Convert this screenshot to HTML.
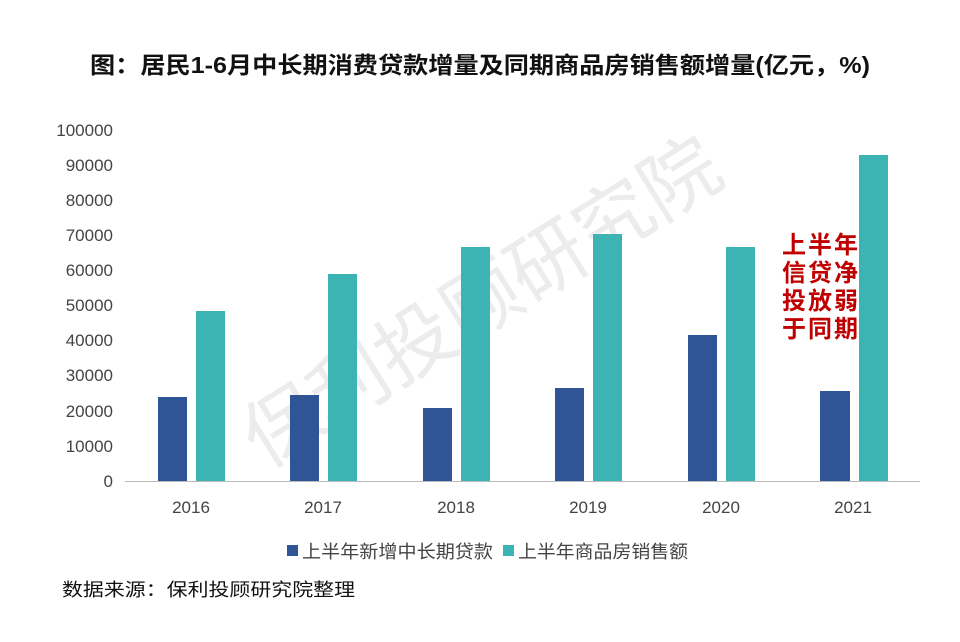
<!DOCTYPE html>
<html><head><meta charset="utf-8"><style>
body{margin:0;background:#fff;}
svg text{font-family:"Liberation Sans","Noto Sans CJK SC",sans-serif;}
</style></head><body>
<svg width="960" height="637" viewBox="0 0 960 637" xmlns="http://www.w3.org/2000/svg">
<rect width="960" height="637" fill="#fff"/>
<text x="90" y="73" font-size="23" font-weight="bold" fill="#111" textLength="780" lengthAdjust="spacingAndGlyphs">图：居民1-6月中长期消费贷款增量及同期商品房销售额增量(亿元，%)</text>
<text x="480" y="330" text-anchor="middle" font-size="78" fill="#ececec" transform="rotate(-32 480 300)">保利投顾研究院</text>
<g font-size="17" fill="#444" text-anchor="end">
<text x="113" y="487">0</text><text x="113" y="452">10000</text><text x="113" y="417">20000</text><text x="113" y="381">30000</text><text x="113" y="346">40000</text><text x="113" y="311">50000</text><text x="113" y="276">60000</text><text x="113" y="241">70000</text><text x="113" y="206">80000</text><text x="113" y="171">90000</text><text x="113" y="136">100000</text>
</g>
<g fill="#2f5597">
<rect x="158" y="397" width="29" height="84"/>
<rect x="290" y="395" width="29" height="86"/>
<rect x="423" y="408" width="29" height="73"/>
<rect x="555" y="388" width="29" height="93"/>
<rect x="688" y="335" width="29" height="146"/>
<rect x="820" y="391" width="30" height="90"/>
</g>
<g fill="#3cb4b4">
<rect x="196" y="311" width="29" height="170"/>
<rect x="328" y="274" width="29" height="207"/>
<rect x="461" y="247" width="29" height="234"/>
<rect x="593" y="234" width="29" height="247"/>
<rect x="726" y="247" width="29" height="234"/>
<rect x="859" y="155" width="29" height="326"/>
</g>
<line x1="125" y1="481.5" x2="920" y2="481.5" stroke="#bbb" stroke-width="1"/>
<g font-size="17" fill="#444" text-anchor="middle">
<text x="191" y="513">2016</text><text x="323" y="513">2017</text><text x="456" y="513">2018</text><text x="588" y="513">2019</text><text x="721" y="513">2020</text><text x="853" y="513">2021</text>
</g>
<g font-size="24" font-weight="bold" fill="#c00000">
<text x="782" y="253" textLength="76">上半年</text><text x="782" y="281" textLength="76">信贷净</text><text x="782" y="309" textLength="76">投放弱</text><text x="782" y="337" textLength="76">于同期</text>
</g>
<rect x="287" y="545" width="11" height="11" fill="#2f5597"/>
<text x="302" y="558" font-size="18" fill="#444" textLength="191" lengthAdjust="spacingAndGlyphs">上半年新增中长期贷款</text>
<rect x="503" y="545" width="11" height="11" fill="#3cb4b4"/>
<text x="518" y="558" font-size="18" fill="#444" textLength="170" lengthAdjust="spacingAndGlyphs">上半年商品房销售额</text>
<text x="62" y="596" font-size="18" fill="#111" textLength="293" lengthAdjust="spacingAndGlyphs">数据来源：保利投顾研究院整理</text>
</svg>
</body></html>
